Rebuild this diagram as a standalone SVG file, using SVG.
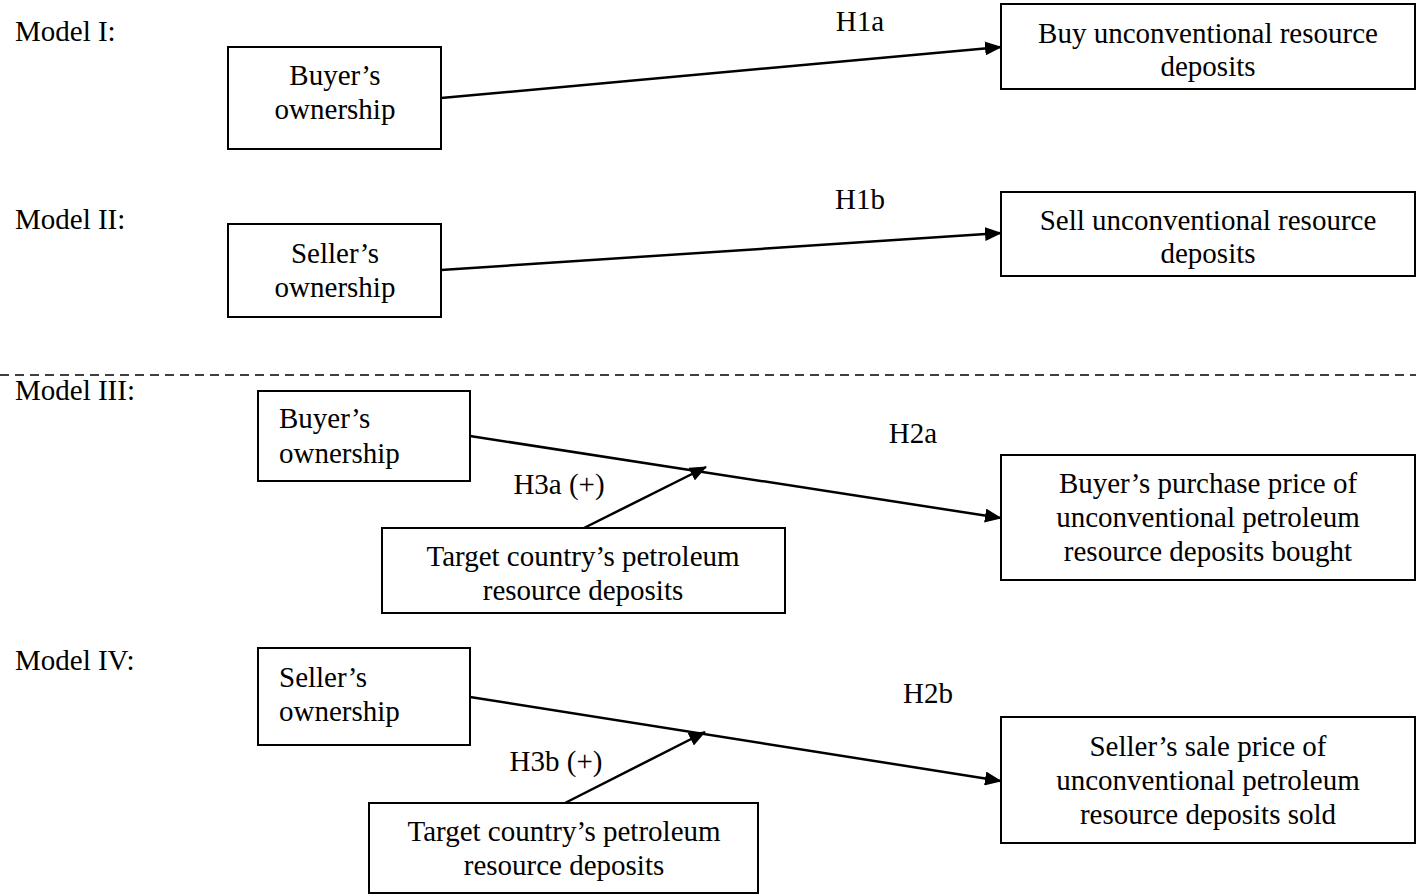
<svg xmlns="http://www.w3.org/2000/svg" width="1416" height="895" viewBox="0 0 1416 895">
<defs>
<marker id="ah" markerWidth="17" markerHeight="14" refX="16" refY="7" orient="auto" markerUnits="userSpaceOnUse">
<path d="M0,0 L17,7 L0,14 Z" fill="#000"/>
</marker>
<style>
text{font-family:"Liberation Serif","Times New Roman",serif;font-size:29px;fill:#000}
.c{text-anchor:middle}
rect{fill:#fff;stroke:#000;stroke-width:2}
.ln{stroke:#000;stroke-width:2.5;fill:none}
</style>
</defs>
<rect x="0" y="0" width="1416" height="895" style="fill:#fff;stroke:none"/>
<g id="labels">
<text x="15" y="41">Model I:</text>
<text x="15" y="229">Model II:</text>
<text x="15" y="400">Model III:</text>
<text x="15" y="670">Model IV:</text>
<text class="c" x="860" y="31">H1a</text>
<text class="c" x="860" y="209">H1b</text>
<text class="c" x="913" y="443">H2a</text>
<text class="c" x="928" y="703">H2b</text>
<text class="c" x="559" y="494">H3a (+)</text>
<text class="c" x="556" y="771">H3b (+)</text>
</g>
<line x1="0" y1="375" x2="1416" y2="375" stroke="#000" stroke-width="1.5" stroke-dasharray="9,6"/>
<g id="connectors">
<line class="ln" x1="441" y1="98" x2="1001" y2="47" marker-end="url(#ah)"/>
<line class="ln" x1="441" y1="270" x2="1001" y2="233" marker-end="url(#ah)"/>
<line class="ln" x1="470" y1="436" x2="1001" y2="518" marker-end="url(#ah)"/>
<line class="ln" x1="584" y1="528" x2="706" y2="467" marker-end="url(#ah)"/>
<line class="ln" x1="470" y1="697" x2="1001" y2="781" marker-end="url(#ah)"/>
<line class="ln" x1="565" y1="803" x2="705" y2="732" marker-end="url(#ah)"/>
</g>
<g id="n1"><rect x="228" y="47" width="213" height="102"/>
<text class="c" x="335" y="85">Buyer’s</text><text class="c" x="335" y="119">ownership</text></g>
<g id="n2"><rect x="1001" y="4" width="414" height="85"/>
<text class="c" x="1208" y="43">Buy unconventional resource</text><text class="c" x="1208" y="76">deposits</text></g>
<g id="n3"><rect x="228" y="224" width="213" height="93"/>
<text class="c" x="335" y="263">Seller’s</text><text class="c" x="335" y="297">ownership</text></g>
<g id="n4"><rect x="1001" y="192" width="414" height="84"/>
<text class="c" x="1208" y="230">Sell unconventional resource</text><text class="c" x="1208" y="263">deposits</text></g>
<g id="n5"><rect x="258" y="391" width="212" height="90"/>
<text x="279" y="428">Buyer’s</text><text x="279" y="463">ownership</text></g>
<g id="n6"><rect x="382" y="528" width="403" height="85"/>
<text class="c" x="583" y="566">Target country’s petroleum</text><text class="c" x="583" y="600">resource deposits</text></g>
<g id="n7"><rect x="1001" y="455" width="414" height="125"/>
<text class="c" x="1208" y="493">Buyer’s purchase price of</text><text class="c" x="1208" y="527">unconventional petroleum</text><text class="c" x="1208" y="561">resource deposits bought</text></g>
<g id="n8"><rect x="258" y="648" width="212" height="97"/>
<text x="279" y="687">Seller’s</text><text x="279" y="721">ownership</text></g>
<g id="n9"><rect x="369" y="803" width="389" height="90"/>
<text class="c" x="564" y="841">Target country’s petroleum</text><text class="c" x="564" y="875">resource deposits</text></g>
<g id="n10"><rect x="1001" y="717" width="414" height="126"/>
<text class="c" x="1208" y="756">Seller’s sale price of</text><text class="c" x="1208" y="790">unconventional petroleum</text><text class="c" x="1208" y="824">resource deposits sold</text></g>
</svg>
